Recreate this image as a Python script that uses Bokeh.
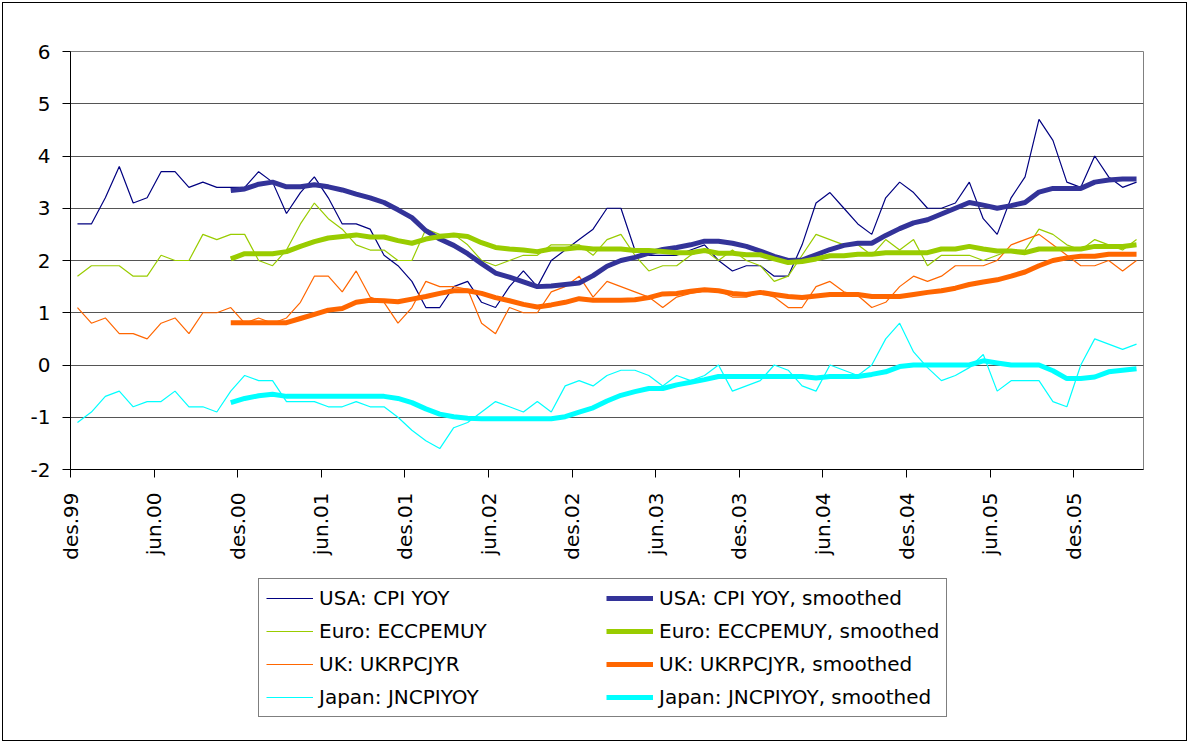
import math
from bokeh.plotting import figure
from bokeh.layouts import column
from bokeh.models import FixedTicker, Legend, LegendItem, Range1d
from bokeh.embed import file_html
from bokeh.resources import INLINE

# ---- data (monthly, des.99 .. apr.06) ----
tick_labels = ["des.99", "jun.00", "des.00", "jun.01", "des.01", "jun.02", "des.02",
               "jun.03", "des.03", "jun.04", "des.04", "jun.05", "des.05"]
y_ticks = [-2, -1, 0, 1, 2, 3, 4, 5, 6]
y_tick_labels = ["-2", "-1", "0", "1", "2", "3", "4", "5", "6"]

usa = [2.7, 2.7, 3.2, 3.8, 3.1, 3.2, 3.7, 3.7, 3.4, 3.5, 3.4, 3.4,
       3.4, 3.7, 3.5, 2.9, 3.3, 3.6, 3.2, 2.7, 2.7, 2.6, 2.1, 1.9,
       1.6, 1.1, 1.1, 1.5, 1.6, 1.2, 1.1, 1.5, 1.8, 1.5, 2.0, 2.2,
       2.4, 2.6, 3.0, 3.0, 2.2, 2.1, 2.1, 2.1, 2.2, 2.3, 2.0, 1.8,
       1.9, 1.9, 1.7, 1.7, 2.3, 3.1, 3.3, 3.0, 2.7, 2.5, 3.2, 3.5,
       3.3, 3.0, 3.0, 3.1, 3.5, 2.8, 2.5, 3.2, 3.6, 4.7, 4.3, 3.5,
       3.4, 4.0, 3.6, 3.4, 3.5]
euro = [1.7, 1.9, 1.9, 1.9, 1.7, 1.7, 2.1, 2.0, 2.0, 2.5, 2.4, 2.5,
        2.5, 2.0, 1.9, 2.2, 2.7, 3.1, 2.8, 2.6, 2.3, 2.2, 2.2, 2.0,
        2.0, 2.6, 2.5, 2.5, 2.3, 2.0, 1.9, 2.0, 2.1, 2.1, 2.3, 2.3,
        2.3, 2.1, 2.4, 2.5, 2.1, 1.8, 1.9, 1.9, 2.1, 2.2, 2.0, 2.2,
        2.0, 1.9, 1.6, 1.7, 2.1, 2.5, 2.4, 2.3, 2.3, 2.1, 2.4, 2.2,
        2.4, 1.9, 2.1, 2.1, 2.1, 2.0, 2.1, 2.2, 2.2, 2.6, 2.5, 2.3,
        2.2, 2.4, 2.3, 2.2, 2.4]
uk = [1.1, 0.8, 0.9, 0.6, 0.6, 0.5, 0.8, 0.9, 0.6, 1.0, 1.0, 1.1,
      0.8, 0.9, 0.8, 0.9, 1.2, 1.7, 1.7, 1.4, 1.8, 1.3, 1.2, 0.8,
      1.1, 1.6, 1.5, 1.5, 1.45, 0.8, 0.6, 1.1, 1.0, 1.0, 1.4, 1.5,
      1.7, 1.3, 1.6, 1.5, 1.4, 1.3, 1.1, 1.3, 1.37, 1.42, 1.42, 1.3,
      1.3, 1.39, 1.3, 1.1, 1.1, 1.5, 1.6, 1.4, 1.33, 1.1, 1.2, 1.5,
      1.7, 1.6, 1.7, 1.9, 1.9, 1.9, 2.0, 2.3, 2.4, 2.5, 2.3, 2.1,
      1.9, 1.9, 2.0, 1.8, 2.0]
japan = [-1.1, -0.9, -0.6, -0.5, -0.8, -0.7, -0.7, -0.5, -0.8, -0.8, -0.9, -0.5,
         -0.2, -0.3, -0.3, -0.7, -0.7, -0.7, -0.8, -0.8, -0.7, -0.8, -0.8, -1.0,
         -1.25, -1.45, -1.6, -1.2, -1.1, -0.9, -0.7, -0.8, -0.9, -0.7, -0.9, -0.4,
         -0.3, -0.4, -0.2, -0.1, -0.1, -0.2, -0.4, -0.2, -0.3, -0.2, 0.0, -0.5,
         -0.4, -0.3, 0.0, -0.1, -0.4, -0.5, 0.0, -0.1, -0.2, 0.0, 0.5, 0.8,
         0.25, -0.05, -0.3, -0.2, -0.05, 0.2, -0.5, -0.3, -0.3, -0.3, -0.7, -0.8,
         0.0, 0.5, 0.4, 0.3, 0.4]

# smoothed series start at month index 11 (nov.00)
smooth_start = 11
usa_s = [3.34, 3.37, 3.46, 3.5, 3.41, 3.41, 3.45, 3.41, 3.35, 3.27, 3.2, 3.11,
         2.97, 2.82, 2.57, 2.41, 2.29, 2.13, 1.94, 1.76, 1.68, 1.59, 1.5, 1.51,
         1.54, 1.57, 1.71, 1.89, 2.0, 2.06, 2.14, 2.21, 2.25, 2.3, 2.37, 2.37,
         2.33, 2.27, 2.18, 2.08, 2.0, 2.01, 2.11, 2.21, 2.29, 2.33, 2.33, 2.48,
         2.61, 2.72, 2.78, 2.89, 3.0, 3.11, 3.06, 3.0, 3.05, 3.11, 3.31, 3.38,
         3.38, 3.38, 3.5, 3.54, 3.56, 3.56]
euro_s = [2.03, 2.13, 2.13, 2.13, 2.17, 2.27, 2.36, 2.43, 2.46, 2.49, 2.45, 2.45,
          2.38, 2.33, 2.41, 2.46, 2.49, 2.46, 2.34, 2.25, 2.22, 2.2, 2.17, 2.22,
          2.22, 2.25, 2.22, 2.22, 2.22, 2.19, 2.19, 2.17, 2.15, 2.15, 2.19, 2.14,
          2.14, 2.11, 2.11, 2.03, 1.96, 1.98, 2.03, 2.09, 2.09, 2.12, 2.12, 2.15,
          2.15, 2.15, 2.15, 2.22, 2.22, 2.27, 2.22, 2.18, 2.18, 2.15, 2.22, 2.22,
          2.22, 2.22, 2.27, 2.27, 2.27, 2.3]
uk_s = [0.81, 0.81, 0.81, 0.81, 0.81, 0.89, 0.97, 1.05, 1.08, 1.2, 1.24, 1.23,
        1.21, 1.26, 1.31, 1.37, 1.42, 1.42, 1.37, 1.29, 1.23, 1.16, 1.11, 1.15,
        1.2, 1.27, 1.24, 1.24, 1.24, 1.25, 1.29, 1.36, 1.37, 1.41, 1.44, 1.42,
        1.37, 1.35, 1.39, 1.35, 1.31, 1.29, 1.32, 1.35, 1.35, 1.35, 1.31, 1.31,
        1.31, 1.35, 1.39, 1.42, 1.47, 1.54, 1.59, 1.63, 1.7, 1.78, 1.9, 2.0,
        2.05, 2.08, 2.08, 2.12, 2.12, 2.12]
japan_s = [-0.72, -0.64, -0.59, -0.56, -0.6, -0.6, -0.6, -0.6, -0.6, -0.6, -0.6, -0.6,
           -0.64, -0.72, -0.84, -0.94, -0.99, -1.02, -1.03, -1.03, -1.03, -1.03, -1.03, -1.03,
           -0.99, -0.9, -0.82, -0.69, -0.58, -0.51, -0.45, -0.45, -0.38, -0.33, -0.28, -0.22,
           -0.22, -0.22, -0.22, -0.22, -0.22, -0.22, -0.25, -0.22, -0.22, -0.22, -0.18, -0.13,
           -0.03, 0.0, 0.0, 0.0, 0.0, 0.0, 0.08, 0.04, 0.0, 0.0, 0.0, -0.11,
           -0.26, -0.26, -0.23, -0.13, -0.1, -0.07]

names = ["USA: CPI YOY", "Euro: ECCPEMUY", "UK: UKRPCJYR", "Japan: JNCPIYOY"]
thin_colors = ["#000080", "#99CC00", "#FF6600", "#00FFFF"]
thick_colors = ["#333399", "#99CC00", "#FF6600", "#00FFFF"]

n = len(usa)
x_raw = list(range(n))
x_s = list(range(smooth_start, n))

FONT = "DejaVu Sans"
W = 1189
H_MAIN = 578
H_LEG = 165
THIN_W = 1.2
THICK_W = 5

# ---------------- main chart ----------------
p = figure(width=W, height=H_MAIN, output_backend="svg", toolbar_location=None,
           x_range=Range1d(-0.5, n - 0.5), y_range=Range1d(-2, 6),
           min_border_left=70, min_border_right=46, min_border_top=51,
           min_border_bottom=H_MAIN - 469)
p.background_fill_color = "white"
p.border_fill_alpha = 0.0
p.outline_line_color = "#808080"
p.outline_line_width = 1

p.xgrid.visible = False
p.ygrid.ticker = FixedTicker(ticks=y_ticks)
p.ygrid.grid_line_color = "#555555"
p.ygrid.grid_line_width = 1

p.yaxis.ticker = FixedTicker(ticks=y_ticks)
p.yaxis.major_label_overrides = dict(zip(y_ticks, y_tick_labels))
p.xaxis.ticker = FixedTicker(ticks=[-0.5 + 6 * k for k in range(len(tick_labels))])
p.xaxis.major_label_overrides = {-0.5 + 6 * k: lab for k, lab in enumerate(tick_labels)}
p.xaxis.major_label_orientation = math.pi / 2
for ax in (p.xaxis, p.yaxis):
    ax.axis_line_color = "black"
    ax.axis_line_width = 1
    ax.major_tick_line_color = "black"
    ax.major_tick_out = 8
    ax.major_tick_in = 0
    ax.minor_tick_line_color = None
    ax.major_label_text_font = FONT
    ax.major_label_text_font_size = "20px"
    ax.major_label_text_color = "black"
p.yaxis.major_label_standoff = 12
p.xaxis.major_label_standoff = 15

raws = [usa, euro, uk, japan]
smooths = [usa_s, euro_s, uk_s, japan_s]
for ys, c in zip(raws, thin_colors):
    p.line(x_raw, ys, line_color=c, line_width=THIN_W)
for ys, c in zip(smooths, thick_colors):
    p.line(x_s, ys, line_color=c, line_width=THICK_W)

# ---------------- legend strip ----------------
q = figure(width=W, height=H_LEG, output_backend="svg", toolbar_location=None,
           x_range=Range1d(0, 1), y_range=Range1d(0, 1),
           min_border_left=0, min_border_right=0, min_border_top=0, min_border_bottom=0)
q.axis.visible = False
q.grid.visible = False
q.outline_line_color = None
q.background_fill_alpha = 0.0
q.border_fill_alpha = 0.0

# legend-sample renderers (no visible data)
thin_r = [q.line([math.nan], [math.nan], line_color=c, line_width=THIN_W) for c in thin_colors]
thick_r = [q.line([math.nan], [math.nan], line_color=c, line_width=THICK_W) for c in thick_colors]

items = [LegendItem(label=nm, renderers=[r]) for nm, r in zip(names, thin_r)]
items += [LegendItem(label=nm + ", smoothed", renderers=[r]) for nm, r in zip(names, thick_r)]

legend = Legend(items=items, orientation="vertical", ncols=2,
                location=(188, 26), padding=7, margin=0, spacing=9,
                glyph_width=47, glyph_height=24, label_height=24,
                label_standoff=6, label_width=278,
                label_text_font=FONT, label_text_font_size="20px",
                label_text_color="black",
                border_line_color="black", border_line_width=1,
                background_fill_color="white", background_fill_alpha=1.0)
q.add_layout(legend)

layout = column(p, q, spacing=0,
                styles={"outline": "1px solid black", "outline-offset": "-3px"})

open("out.html", "w").write(file_html(layout, INLINE))
